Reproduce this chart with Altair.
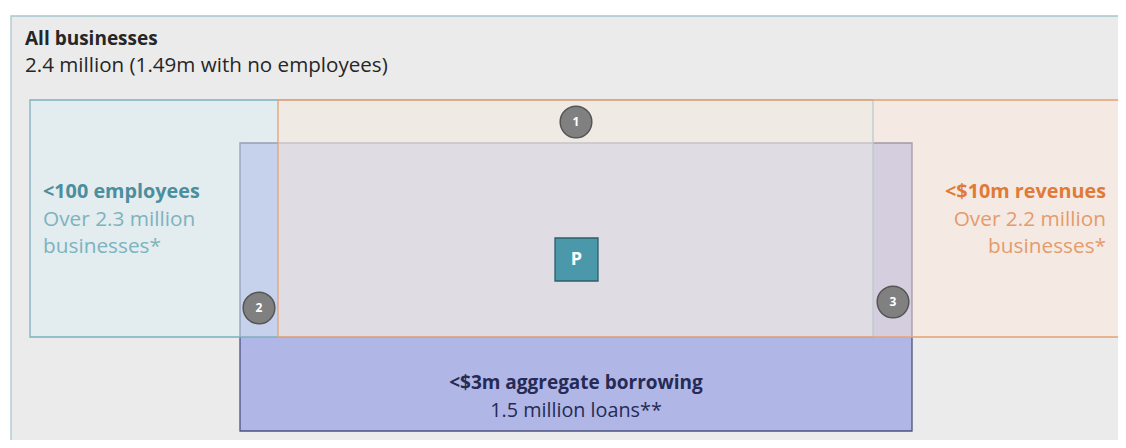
import altair as alt
import pandas as pd

# Box extents in diagram units (reference pixel grid)
box_names = ["All businesses", "<$3m aggregate borrowing", "<100 employees", "<$10m revenues"]
box_x1 = [11, 240, 30, 278]
box_x2 = [1140, 912, 873, 1122]
box_y1 = [16, 143, 100, 100]
box_y2 = [452, 431, 337, 337]
box_fill = ["#EBEBEB", "#B0B6E5", "#DBEDF1", "#FCE7DA"]
box_stroke = ["#A7C8CF", "#4E527E", "#7DB1BD", "#E5A175"]
box_opacity = [1.0, 1.0, 0.5, 0.48]

# Numbered markers
marker_labels = ["1", "2", "3"]
marker_x = [576, 259, 893]
marker_y = [122, 308, 302]

# "P" marker
p_label = ["P"]
p_x1, p_x2, p_y1, p_y2 = [555], [598], [238], [281]

# Text blocks
title_lines = ["All businesses", "2.4 million (1.49m with no employees)"]
emp_lines = ["<100 employees", "Over 2.3 million", "businesses*"]
rev_lines = ["<$10m revenues", "Over 2.2 million", "businesses*"]
bor_lines = ["<$3m aggregate borrowing", "1.5 million loans**"]

FONT = "Open Sans"

xs = alt.Scale(domain=[8, 1118], range=[0, 1110])
ys = alt.Scale(domain=[8, 440], range=[0, 432])

layers = []
for i, name in enumerate(box_names):
    df = pd.DataFrame({"name": [name], "x": [box_x1[i]], "x2": [box_x2[i]],
                       "y": [box_y1[i]], "y2": [box_y2[i]]})
    layers.append(alt.Chart(df).mark_rect(
        fill=box_fill[i], fillOpacity=box_opacity[i], stroke=box_stroke[i],
        strokeOpacity=1, strokeWidth=1.3, clip=True).encode(
        x=alt.X("x:Q", scale=xs, axis=None), x2="x2:Q",
        y=alt.Y("y:Q", scale=ys, axis=None), y2="y2:Q"))

pdf = pd.DataFrame({"label": p_label, "x": p_x1, "x2": p_x2, "y": p_y1, "y2": p_y2})
p_rect = alt.Chart(pdf).mark_rect(fill="#4A98A9", stroke="#2E5E69", strokeWidth=1.3).encode(
    x=alt.X("x:Q", scale=xs, axis=None), x2="x2:Q",
    y=alt.Y("y:Q", scale=ys, axis=None), y2="y2:Q",
)
p_text = alt.Chart(pdf).transform_calculate(
    cx="(datum.x + datum.x2) / 2", cy="(datum.y + datum.y2) / 2"
).mark_text(font=FONT, fontWeight="bold", fontSize=18, color="white", baseline="middle", align="center").encode(
    x=alt.X("cx:Q", scale=xs, axis=None), y=alt.Y("cy:Q", scale=ys, axis=None), text="label:N"
)

mdf = pd.DataFrame({"label": marker_labels, "x": marker_x, "y": marker_y})
circles = alt.Chart(mdf).mark_point(filled=True, shape="circle", size=1000, fill="#808080",
                                    stroke="#555555", strokeWidth=1.5, opacity=1).encode(
    x=alt.X("x:Q", scale=xs, axis=None), y=alt.Y("y:Q", scale=ys, axis=None)
)
circle_text = alt.Chart(mdf).mark_text(font=FONT, fontWeight="bold", fontSize=12, color="white",
                                       baseline="middle", align="center").encode(
    x=alt.X("x:Q", scale=xs, axis=None), y=alt.Y("y:Q", scale=ys, axis=None), text="label:N"
)


def text_layer(lines, x, ys_, align, color, weights, size):
    out = []
    for i, line in enumerate(lines):
        df = pd.DataFrame({"t": [line], "x": [x], "y": [ys_[i]]})
        out.append(alt.Chart(df).mark_text(
            font=FONT, fontSize=size[i], fontWeight=weights[i], color=color[i],
            align=align, baseline="alphabetic").encode(
            x=alt.X("x:Q", scale=xs, axis=None), y=alt.Y("y:Q", scale=ys, axis=None), text="t:N"))
    return out


texts = []
texts += text_layer(title_lines, 25, [45, 72], "left", ["#262626", "#262626"], ["bold", "normal"], [19, 20.6])
texts += text_layer(emp_lines, 43, [198, 226, 253], "left", ["#4B8E9D", "#7DB3BF", "#7DB3BF"],
                    ["bold", "normal", "normal"], [19.8, 20.8, 20.8])
texts += text_layer(rev_lines, 1106, [198, 226, 253], "right", ["#E07B37", "#E59B6C", "#E59B6C"],
                    ["bold", "normal", "normal"], [19.8, 20.8, 20.8])
texts += text_layer(bor_lines, 576, [389, 417], "center", ["#262A55", "#262A55"], ["bold", "normal"], [19, 19.8])

chart = alt.layer(*layers, p_rect, p_text, circles, circle_text, *texts).properties(
    width=1110, height=432, padding=0, autosize="none", background="white"
).configure_view(stroke=None)

chart.save("out.html", embed_options={"renderer": "svg", "actions": False})
